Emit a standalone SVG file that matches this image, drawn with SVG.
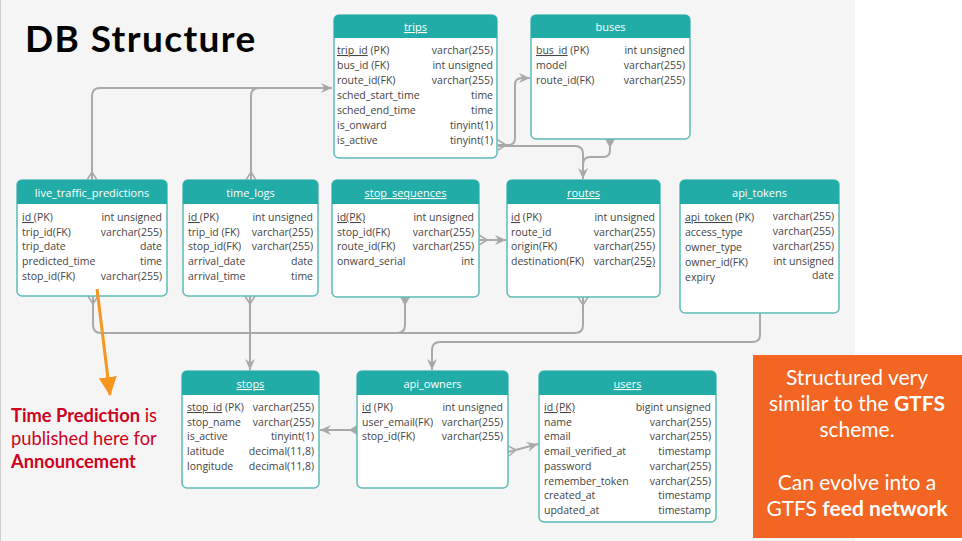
<svg xmlns="http://www.w3.org/2000/svg" width="962" height="541" viewBox="0 0 962 541">
<style>
.bg{fill:#f5f5f6}
.box{fill:#fff;stroke:#5cbcb8;stroke-width:1.5}
.hdr{fill:#22aca8}
.ttl{font-family:"Open Sans","DejaVu Sans",sans-serif;font-size:11px;fill:#fff;text-anchor:middle}
.n{font-family:"Open Sans","DejaVu Sans",sans-serif;font-size:10.5px;fill:#444}
.ty{font-family:"Open Sans","DejaVu Sans",sans-serif;font-size:10.5px;fill:#444;text-anchor:end}
.u{text-decoration:underline}
.c{fill:none;stroke:#a9a9ab;stroke-width:2}
.cf{fill:none;stroke:#a9a9ab;stroke-width:1.5}
.tri{fill:#a9a9ab}
.lato{font-family:Lato,"Open Sans",sans-serif}
</style>
<defs>
<marker id="arr" markerUnits="userSpaceOnUse" markerWidth="12" markerHeight="12" refX="11" refY="6" orient="auto" viewBox="0 0 12 12">
<path d="M0,1 L11,6 L0,11 L3.5,6 Z" fill="#a9a9ab"/>
</marker>
<marker id="oarr" markerUnits="userSpaceOnUse" markerWidth="20" markerHeight="18" refX="18" refY="9" orient="auto" viewBox="0 0 20 18">
<path d="M0,0 L19,9 L0,18 Z" fill="#f7961e"/>
</marker>
</defs>
<rect x="0" y="0" width="962" height="541" fill="#fff"/>
<rect class="bg" x="0" y="0" width="855" height="541"/>
<line x1="0.5" y1="0" x2="0.5" y2="541" stroke="#cfcfcf" stroke-width="1"/>

<text x="25" y="52" class="lato" font-size="37" font-weight="700" letter-spacing="1.4" fill="#000">DB Structure</text>

<g id="connectors">
<path class="c" d="M92,180 V96 Q92,88 100,88 H332" marker-end="url(#arr)"/>
<path class="c" d="M251,180 V96 Q251,88 259,88"/>
<path class="c" d="M498,145 H508 Q515,145 515,138 V85 Q515,78 522,78 H530" marker-end="url(#arr)"/>
<path class="c" d="M498,146 H575 Q583,146 583,154 V179" marker-end="url(#arr)"/>
<path class="c" d="M610,139 V150 Q610,157 603,157 H590 Q583,157 583,165"/>
<path class="c" d="M93,296 V325 Q93,333 101,333 H575 Q583,333 583,325 V297"/>
<path class="c" d="M405,297 V325 Q405,333 397,333"/>
<path class="c" d="M250,296 V370" marker-end="url(#arr)"/>
<path class="c" d="M760,313 V335 Q760,342 752,342 H440 Q432,342 432,350 V370" marker-end="url(#arr)"/>
<path class="c" d="M357,430 H320" marker-end="url(#arr)"/>
<path class="c" d="M508,452 L538,444" marker-end="url(#arr)"/>
<path class="c" d="M479,240 H506" marker-end="url(#arr)"/>
<path class="cf" d="M92,172 L87,180 M92,172 L97,180"/>
<path class="cf" d="M251,172 L246,180 M251,172 L256,180"/>
<path class="cf" d="M506,145 L498,140 M506,145 L498,150"/>
<path class="cf" d="M93,304 L88,296 M93,304 L98,296"/>
<path class="cf" d="M250,304 L245,296 M250,304 L255,296"/>
<path class="cf" d="M583,305 L578,297 M583,305 L588,297"/>
<path class="cf" d="M487,240 L479,235 M487,240 L479,245"/>
<path class="cf" d="M516,450 L508,446 M516,450 L509,456"/>
<path class="tri" d="M605,139 L615,139 L610,148 Z"/>
<path class="tri" d="M400,297 L410,297 L405,306 Z"/>
<path class="tri" d="M357,425 L357,435 L349,430 Z"/>
</g>

<g id="trips">
<rect class="box" x="334" y="15" width="163" height="143" rx="5"/>
<path class="hdr" d="M334,20 Q334,15 339,15 H492 Q497,15 497,20 V38 H334 Z"/>
<text class="ttl u" x="415.5" y="31">trips</text>
<text class="n" x="337" y="54"><tspan class="u">trip_id</tspan> (PK)</text><text class="ty" x="493" y="54">varchar(255)</text>
<text class="n" x="337" y="69">bus_id (FK)</text><text class="ty" x="493" y="69">int unsigned</text>
<text class="n" x="337" y="84">route_id(FK)</text><text class="ty" x="493" y="84">varchar(255)</text>
<text class="n" x="337" y="99">sched_start_time</text><text class="ty" x="493" y="99">time</text>
<text class="n" x="337" y="114">sched_end_time</text><text class="ty" x="493" y="114">time</text>
<text class="n" x="337" y="129">is_onward</text><text class="ty" x="493" y="129">tinyint(1)</text>
<text class="n" x="337" y="144">is_active</text><text class="ty" x="493" y="144">tinyint(1)</text>
</g>

<g id="buses">
<rect class="box" x="531" y="15" width="159" height="124" rx="5"/>
<path class="hdr" d="M531,20 Q531,15 536,15 H685 Q690,15 690,20 V38 H531 Z"/>
<text class="ttl" x="610.5" y="31">buses</text>
<text class="n" x="536" y="54"><tspan class="u">bus_id</tspan> (PK)</text><text class="ty" x="685" y="54">int unsigned</text>
<text class="n" x="536" y="69">model</text><text class="ty" x="685" y="69">varchar(255)</text>
<text class="n" x="536" y="84">route_id(FK)</text><text class="ty" x="685" y="84">varchar(255)</text>
</g>

<g id="live_traffic_predictions">
<rect class="box" x="17" y="180" width="150" height="116" rx="5"/>
<path class="hdr" d="M17,185 Q17,180 22,180 H162 Q167,180 167,185 V204 H17 Z"/>
<text class="ttl" x="92" y="197">live_traffic_predictions</text>
<text class="n" x="22" y="221"><tspan class="u">id </tspan>(PK)</text><text class="ty" x="162" y="221">int unsigned</text>
<text class="n" x="22" y="236">trip_id(FK)</text><text class="ty" x="162" y="236">varchar(255)</text>
<text class="n" x="22" y="250">trip_date</text><text class="ty" x="162" y="250">date</text>
<text class="n" x="22" y="265">predicted_time</text><text class="ty" x="162" y="265">time</text>
<text class="n" x="22" y="280">stop_id(FK)</text><text class="ty" x="162" y="280">varchar(255)</text>
</g>

<g id="time_logs">
<rect class="box" x="183" y="180" width="135" height="116" rx="5"/>
<path class="hdr" d="M183,185 Q183,180 188,180 H313 Q318,180 318,185 V204 H183 Z"/>
<text class="ttl" x="250.5" y="197">time_logs</text>
<text class="n" x="188" y="221"><tspan class="u">id </tspan>(PK)</text><text class="ty" x="313" y="221">int unsigned</text>
<text class="n" x="188" y="236">trip_id (FK)</text><text class="ty" x="313" y="236">varchar(255)</text>
<text class="n" x="188" y="250">stop_id(FK)</text><text class="ty" x="313" y="250">varchar(255)</text>
<text class="n" x="188" y="265">arrival_date</text><text class="ty" x="313" y="265">date</text>
<text class="n" x="188" y="280">arrival_time</text><text class="ty" x="313" y="280">time</text>
</g>

<g id="stop_sequences">
<rect class="box" x="332" y="180" width="147" height="117" rx="5"/>
<path class="hdr" d="M332,185 Q332,180 337,180 H474 Q479,180 479,185 V204 H332 Z"/>
<text class="ttl u" x="405.5" y="197">stop_sequences</text>
<text class="n" x="337" y="221"><tspan class="u">id(PK)</tspan></text><text class="ty" x="474" y="221">int unsigned</text>
<text class="n" x="337" y="236">stop_id(FK)</text><text class="ty" x="474" y="236">varchar(255)</text>
<text class="n" x="337" y="250">route_id(FK)</text><text class="ty" x="474" y="250">varchar(255)</text>
<text class="n" x="337" y="265">onward_serial</text><text class="ty" x="474" y="265">int</text>
</g>

<g id="routes">
<rect class="box" x="507" y="180" width="153" height="117" rx="5"/>
<path class="hdr" d="M507,185 Q507,180 512,180 H655 Q660,180 660,185 V204 H507 Z"/>
<text class="ttl u" x="583.5" y="197">routes</text>
<text class="n" x="511" y="221"><tspan class="u">id</tspan> (PK)</text><text class="ty" x="655" y="221">int unsigned</text>
<text class="n" x="511" y="236">route_id</text><text class="ty" x="655" y="236">varchar(255)</text>
<text class="n" x="511" y="250">origin(FK)</text><text class="ty" x="655" y="250">varchar(255)</text>
<text class="n" x="511" y="265">destination(FK)</text><text class="ty" x="655" y="265">varchar(25<tspan class="u">5)</tspan></text>
</g>

<g id="api_tokens">
<rect class="box" x="680" y="180" width="159" height="133" rx="5"/>
<path class="hdr" d="M680,185 Q680,180 685,180 H834 Q839,180 839,185 V204 H680 Z"/>
<text class="ttl" x="759.5" y="197">api_tokens</text>
<text class="n" x="685" y="221"><tspan class="u">api_token</tspan> (PK)</text><text class="ty" x="834" y="220">varchar(255)</text>
<text class="n" x="685" y="236">access_type</text><text class="ty" x="834" y="235">varchar(255)</text>
<text class="n" x="685" y="251">owner_type</text><text class="ty" x="834" y="250">varchar(255)</text>
<text class="n" x="685" y="266">owner_id(FK)</text><text class="ty" x="834" y="265">int unsigned</text>
<text class="n" x="685" y="281">expiry</text><text class="ty" x="834" y="279">date</text>
</g>

<g id="stops">
<rect class="box" x="182" y="371" width="137" height="117" rx="5"/>
<path class="hdr" d="M182,376 Q182,371 187,371 H314 Q319,371 319,376 V395 H182 Z"/>
<text class="ttl u" x="250.5" y="388">stops</text>
<text class="n" x="187" y="411"><tspan class="u">stop_id</tspan> (PK)</text><text class="ty" x="314" y="411">varchar(255)</text>
<text class="n" x="187" y="426">stop_name</text><text class="ty" x="314" y="426">varchar(255)</text>
<text class="n" x="187" y="440">is_active</text><text class="ty" x="314" y="440">tinyint(1)</text>
<text class="n" x="187" y="455">latitude</text><text class="ty" x="314" y="455">decimal(11,8)</text>
<text class="n" x="187" y="470">longitude</text><text class="ty" x="314" y="470">decimal(11,8)</text>
</g>

<g id="api_owners">
<rect class="box" x="357" y="371" width="151" height="117" rx="5"/>
<path class="hdr" d="M357,376 Q357,371 362,371 H503 Q508,371 508,376 V395 H357 Z"/>
<text class="ttl" x="432.5" y="388">api_owners</text>
<text class="n" x="362" y="411"><tspan class="u">id</tspan> (PK)</text><text class="ty" x="503" y="411">int unsigned</text>
<text class="n" x="362" y="426">user_email(FK)</text><text class="ty" x="503" y="426">varchar(255)</text>
<text class="n" x="362" y="440">stop_id(FK)</text><text class="ty" x="503" y="440">varchar(255)</text>
</g>

<g id="users">
<rect class="box" x="539" y="371" width="177" height="151" rx="5"/>
<path class="hdr" d="M539,376 Q539,371 544,371 H711 Q716,371 716,376 V395 H539 Z"/>
<text class="ttl u" x="627.5" y="388">users</text>
<text class="n" x="544" y="411"><tspan class="u">id (PK)</tspan></text><text class="ty" x="711" y="411">bigint unsigned</text>
<text class="n" x="544" y="426">name</text><text class="ty" x="711" y="426">varchar(255)</text>
<text class="n" x="544" y="440">email</text><text class="ty" x="711" y="440">varchar(255)</text>
<text class="n" x="544" y="455">email_verified_at</text><text class="ty" x="711" y="455">timestamp</text>
<text class="n" x="544" y="470">password</text><text class="ty" x="711" y="470">varchar(255)</text>
<text class="n" x="544" y="485">remember_token</text><text class="ty" x="711" y="485">varchar(255)</text>
<text class="n" x="544" y="499">created_at</text><text class="ty" x="711" y="499">timestamp</text>
<text class="n" x="544" y="514">updated_at</text><text class="ty" x="711" y="514">timestamp</text>
</g>

<g id="annotation">
<line x1="97" y1="289" x2="110" y2="395" stroke="#f7961e" stroke-width="3" marker-end="url(#oarr)"/>
<text class="lato" font-size="18.3" fill="#d0021b"><tspan x="11" y="422" font-weight="700">Time Prediction</tspan><tspan> is</tspan><tspan x="11" y="445">published here for</tspan><tspan x="11" y="468" font-weight="700">Announcement</tspan></text>
</g>

<g id="note">
<rect x="753" y="355" width="209" height="183" fill="#f26522"/>
<text class="lato" font-size="21" fill="#fff" text-anchor="middle"><tspan x="857" y="385">Structured very</tspan><tspan x="857" y="411">similar to the <tspan font-weight="700">GTFS</tspan></tspan><tspan x="857" y="437">scheme.</tspan><tspan x="857" y="490">Can evolve into a</tspan><tspan x="857" y="516">GTFS <tspan font-weight="700">feed network</tspan></tspan></text>
</g>
</svg>
